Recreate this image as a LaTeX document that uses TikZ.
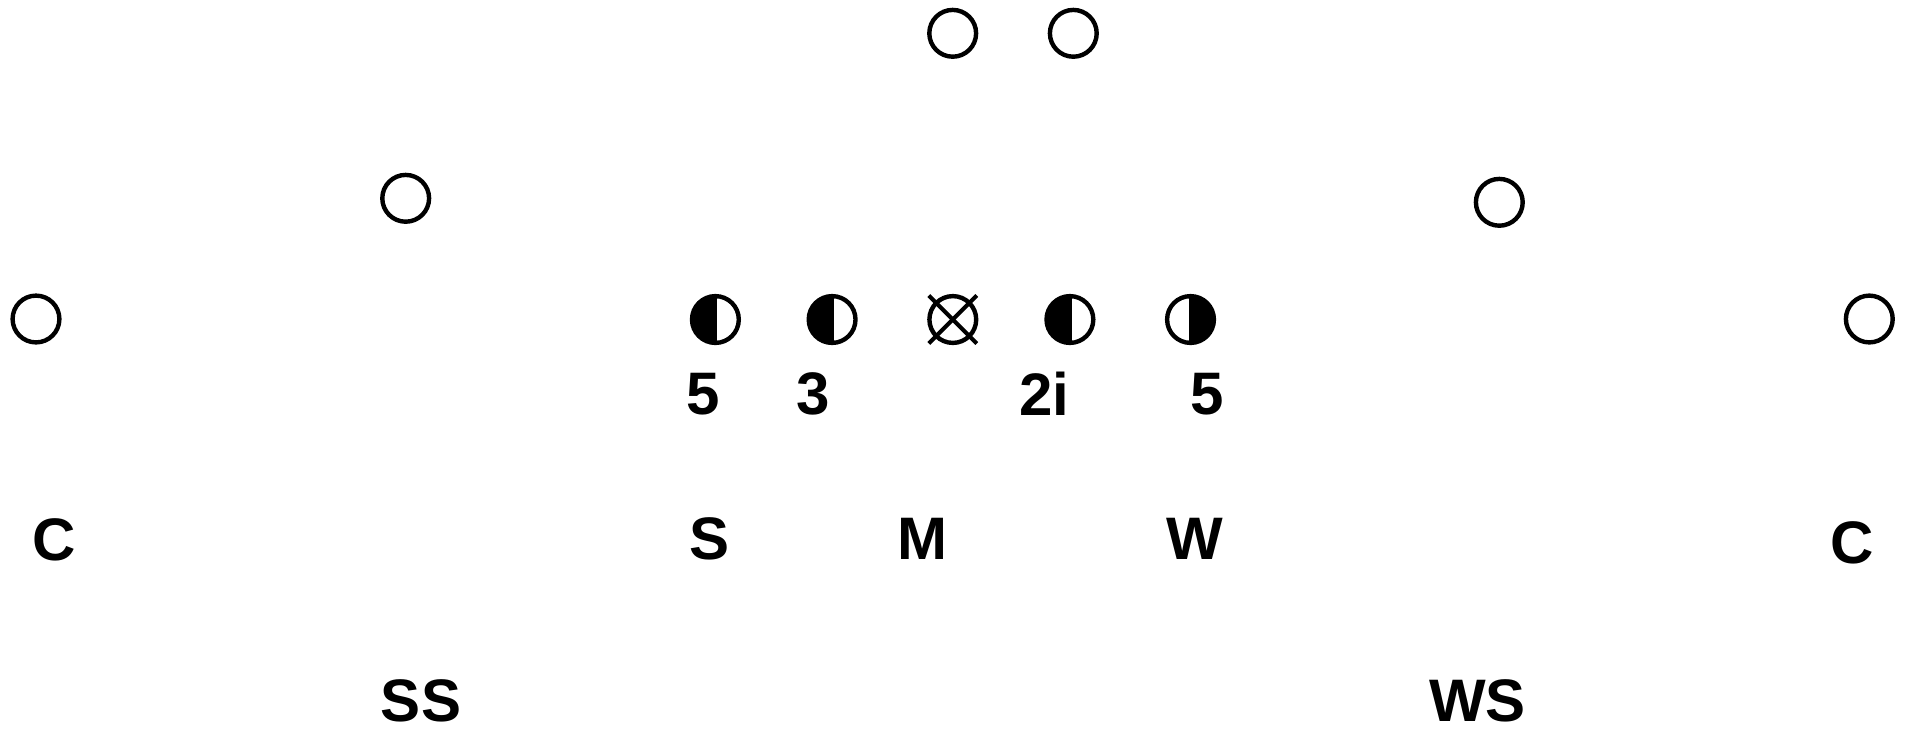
\documentclass[tikz,border=0pt]{standalone}
\usepackage{fontspec}
\setmainfont{Liberation Sans}

\begin{document}
\begin{tikzpicture}[
  x=0.5pt, y=-0.5pt,
  player/.style={draw, circle, line width=2.2pt, minimum size=23.4pt, inner sep=0pt},
  lfill/.style={player, path picture={
      \fill (path picture bounding box.south west) rectangle (path picture bounding box.north);
      \draw[line width=2pt] (path picture bounding box.north) -- (path picture bounding box.south);}},
  rfill/.style={player, path picture={
      \fill (path picture bounding box.south) rectangle (path picture bounding box.north east);
      \draw[line width=2pt] (path picture bounding box.north) -- (path picture bounding box.south);}},
  lbl/.style={font=\fontsize{30}{36}\selectfont\bfseries, inner sep=0pt}
]
\useasboundingbox (0,0) rectangle (1910,730);

% offense
\node[player] (fb) at (952.7,33.3) {};
\node[player] (hb) at (1073.3,33.3) {};
\node[player] (slotl) at (405.7,198.3) {};
\node[player] (slotr) at (1499.3,202.3) {};
\node[player] (wrl) at (36,319) {};
\node[player] (wrr) at (1869.3,319) {};

% line
\node[lfill] (dl1) at (715.4,319.5) {};
\node[lfill] (dl2) at (832.1,319.5) {};
\node[player] (ctr) at (952.8,319.5) {};
\node[lfill] (dl3) at (1069.9,319.5) {};
\node[rfill] (dl4) at (1190.5,319.5) {};
\draw[line width=2pt] (ctr.center) ++(-24,-24) -- ++(48,48);
\draw[line width=2pt] (ctr.center) ++(24,-24) -- ++(-48,48);

% techniques
\node[lbl] (t1) at (703.6,394) {5};
\node[lbl] (t2) at (812.7,394) {3};
\node[lbl] (t3) at (1044.4,394) {2i};
\node[lbl] (t4) at (1207,394) {5};

% second level
\node[lbl] (cbl) at (54,540) {C};
\node[lbl] (sam) at (709,539) {S};
\node[lbl] (mike) at (922.7,539) {M};
\node[lbl] (will) at (1194.6,539) {W};
\node[lbl] (cbr) at (1851.7,543) {C};

% safeties
\node[lbl] (ss) at (421,701) {SS};
\node[lbl] (ws) at (1477.5,701) {WS};
\end{tikzpicture}
\end{document}
